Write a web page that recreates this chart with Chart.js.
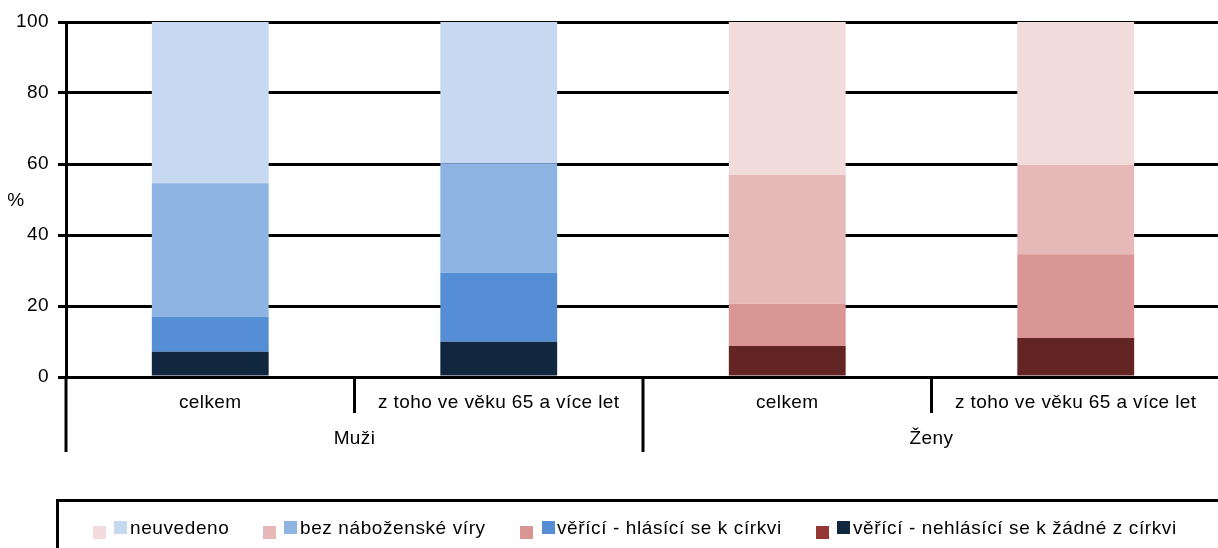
<!DOCTYPE html>
<html><head><meta charset="utf-8">
<script src="https://cdn.jsdelivr.net/npm/chart.js@4"></script>
<style>
html,body{margin:0;padding:0;background:#fff;overflow:hidden;width:1218px;height:548px;}
#wrap{position:absolute;left:0;top:0;width:1220px;height:500px;}
#legendBox{position:absolute;left:56px;top:499px;width:1300px;height:200px;border-top:3px solid #000;border-left:3px solid #000;}
.sq{position:absolute;width:13px;height:13px;}
.lt{position:absolute;font:19px "Liberation Sans",Arial,sans-serif;letter-spacing:0.6px;color:#000;line-height:19px;white-space:nowrap;}
</style></head><body>
<div id="wrap"><canvas id="c" width="1220" height="500"></canvas></div>
<div id="legendBox"></div>
<div id="legend"></div>
<script>
// ---- data ----
const categories = ["celkem", "z toho ve věku 65 a více let", "celkem", "z toho ve věku 65 a více let"];
const groups = ["Muži", "Ženy"];
const seriesNames = ["věřící - nehlásící se k žádné z církvi", "věřící - hlásící se k církvi", "bez náboženské víry", "neuvedeno"];
const nehlasici = [7.1, 9.9, 8.7, 11.0];
const hlasici = [9.9, 19.5, 11.9, 23.6];
const bezViry = [37.6, 30.8, 36.3, 25.1];
const neuvedeno = [45.4, 39.8, 43.1, 40.3];
const yTicks = [0, 20, 40, 60, 80, 100];
const yTitle = "%";

// ---- styles ----
const menColors = ["#11263F", "#558ED5", "#8EB4E3", "#C6D9F1"];
const womenColors = ["#632523", "#D99694", "#E6B9B8", "#F2DCDB"];
const legendWomen = ["#953735", "#D99694", "#E6B9B8", "#F2DCDB"];
const FONT = '"Liberation Sans", Arial, sans-serif';

const seriesValues = [nehlasici, hlasici, bezViry, neuvedeno];
const datasets = seriesValues.map((vals, i) => ({
  label: seriesNames[i],
  data: vals,
  backgroundColor: [menColors[i], menColors[i], womenColors[i], womenColors[i]],
  borderWidth: 0,
  barPercentage: 0.405,
  categoryPercentage: 1.0
}));

// ---- legend (HTML) ----
const legendOrder = [3, 2, 1, 0];
const legendLayout = [
  {p: 93, b: 114, t: 130},
  {p: 263, b: 284, t: 300},
  {p: 520, b: 542, t: 557},
  {p: 816, b: 837, t: 853}
];
const lg = document.getElementById('legend');
legendOrder.forEach((si, k) => {
  const L = legendLayout[k];
  const s1 = document.createElement('div'); s1.className = 'sq';
  s1.style.left = L.p + 'px'; s1.style.top = '526px'; s1.style.background = legendWomen[si];
  const s2 = document.createElement('div'); s2.className = 'sq';
  s2.style.left = L.b + 'px'; s2.style.top = '521px'; s2.style.background = menColors[si];
  const t = document.createElement('div'); t.className = 'lt';
  t.style.left = L.t + 'px'; t.style.top = '518px'; t.textContent = seriesNames[si];
  lg.appendChild(s1); lg.appendChild(s2); lg.appendChild(t);
});

// ---- decorations plugin ----
const decor = {
  id: 'decor',
  beforeDraw(chart) { chart.ctx.letterSpacing = '0.4px'; },
  afterDraw(chart) {
    const {ctx, chartArea: a, scales: {x}} = chart;
    ctx.save();
    ctx.letterSpacing = '0.4px';
    ctx.strokeStyle = '#000'; ctx.lineWidth = 3; ctx.lineCap = 'butt';
    const step = x.getPixelForValue(1) - x.getPixelForValue(0);
    const start = x.getPixelForValue(0) - step / 2;
    for (let i = 0; i <= categories.length; i++) {
      const px = start + i * step;
      const isGroup = i % 2 === 0;
      ctx.beginPath();
      ctx.moveTo(px, a.bottom);
      ctx.lineTo(px, a.bottom + (isGroup ? 75 : 36));
      ctx.stroke();
    }
    ctx.fillStyle = '#000';
    ctx.font = '19px ' + FONT;
    ctx.textAlign = 'center'; ctx.textBaseline = 'middle';
    groups.forEach((g, gi) => {
      const cx = start + (gi * 2 + 1) * step;
      ctx.fillText(g, cx, 439);
    });
    ctx.fillText(yTitle, 16, 201);
    ctx.restore();
  }
};

new Chart(document.getElementById('c'), {
  type: 'bar',
  data: {labels: categories, datasets},
  options: {
    responsive: false,
    animation: false,
    events: [],
    layout: {padding: {top: 22, left: 0, right: 0, bottom: 0}},
    plugins: {legend: {display: false}, tooltip: {enabled: false}},
    scales: {
      x: {
        stacked: true,
        z: 1,
        grid: {display: false, drawTicks: false},
        border: {display: true, color: '#000', width: 3},
        ticks: {color: '#000', font: {size: 19, family: FONT}, padding: 14, maxRotation: 0, autoSkip: false},
        afterFit(s) { s.height = 123; }
      },
      y: {
        stacked: true,
        min: 0, max: 100,
        afterBuildTicks(s) { s.ticks = yTicks.map(v => ({value: v})); },
        grid: {color: '#000', lineWidth: 3, borderDash: [2, 1], tickLength: 8, tickBorderDash: [], tickColor: '#000'},
        border: {display: true, color: '#000', width: 3},
        ticks: {color: '#000', font: {size: 19, family: FONT}, padding: 9},
        afterFit(s) { s.width = 66; }
      }
    }
  },
  plugins: [decor]
});
</script>
</body></html>
